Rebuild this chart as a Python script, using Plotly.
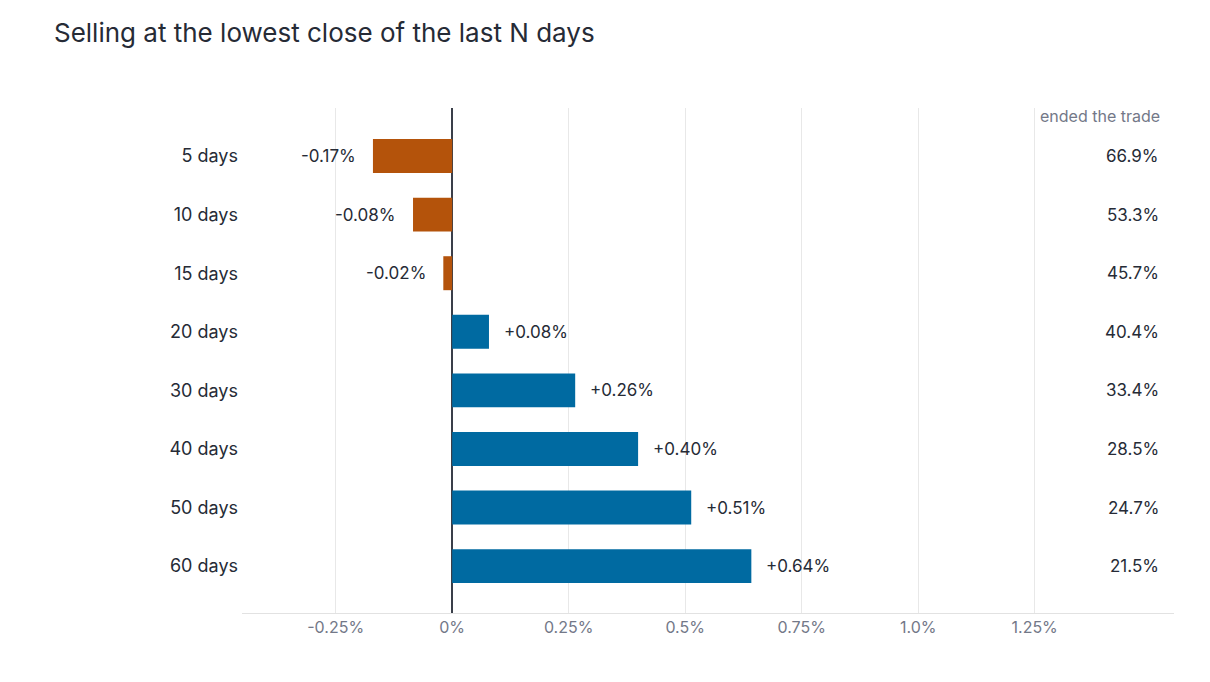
import plotly.graph_objects as go

# data
windows = ["5 days", "10 days", "15 days", "20 days", "30 days", "40 days", "50 days", "60 days"]
avg_return = [-0.17, -0.084, -0.019, 0.079, 0.264, 0.399, 0.513, 0.642]
return_labels = ["-0.17%", "-0.08%", "-0.02%", "+0.08%", "+0.26%", "+0.40%", "+0.51%", "+0.64%"]
ended_trade = ["66.9%", "53.3%", "45.7%", "40.4%", "33.4%", "28.5%", "24.7%", "21.5%"]
tick_vals = [-0.25, 0, 0.25, 0.5, 0.75, 1.0, 1.25]
tick_text = ["-0.25%", "0%", "0.25%", "0.5%", "0.75%", "1.0%", "1.25%"]

ORANGE = "#b4530b"
BLUE = "#006aa1"
DARK = "#262b36"
GREY = "#737888"
FONT = "Inter, Noto Sans, sans-serif"

fig = go.Figure()
fig.add_trace(go.Bar(
    x=avg_return, y=windows, orientation="h",
    marker=dict(color=[ORANGE if v < 0 else BLUE for v in avg_return], line=dict(width=0)),
    width=0.58,
    hoverinfo="skip",
))

# value labels next to each bar
for w, v, lab in zip(windows, avg_return, return_labels):
    fig.add_annotation(
        x=v, y=w, text=lab, showarrow=False,
        xanchor="right" if v < 0 else "left",
        xshift=-15 if v < 0 else 13,
        font=dict(size=17, color=DARK, family=FONT),
    )

# right-hand column
for w, lab in zip(windows, ended_trade):
    fig.add_annotation(
        x=0.9865, xref="paper", y=w, text=lab, showarrow=False,
        xanchor="right", font=dict(size=17, color=DARK, family=FONT),
    )
fig.add_annotation(
    x=0.9875, xref="paper", y=0.984, yref="paper", text="ended the trade", showarrow=False,
    xanchor="right", yanchor="middle", font=dict(size=16, color=GREY, family=FONT),
)

fig.update_layout(
    title=dict(text="Selling at the lowest close of the last N days", x=0.0385, xanchor="left",
               y=0.9625, yanchor="middle", font=dict(size=26, color=DARK, family=FONT)),
    width=1194, height=666,
    margin=dict(l=234, r=28, t=100, b=61),
    plot_bgcolor="white", paper_bgcolor="white",
    showlegend=False,
    xaxis=dict(
        range=[-0.451, 1.549], tickvals=tick_vals, ticktext=tick_text,
        showgrid=True, gridcolor="#e8e8e8", gridwidth=1,
        zeroline=True, zerolinecolor="#3a3f4a", zerolinewidth=1.5,
        showline=True, linecolor="#e2e2e2", linewidth=1,
        tickfont=dict(size=16, color=GREY, family=FONT), ticks="",
    ),
    yaxis=dict(
        autorange=False, range=[7.8, -0.82],
        showgrid=False, zeroline=False,
        tickfont=dict(size=18, color=DARK, family=FONT), ticklabelstandoff=3,
    ),
)

fig.write_html("out.html")
